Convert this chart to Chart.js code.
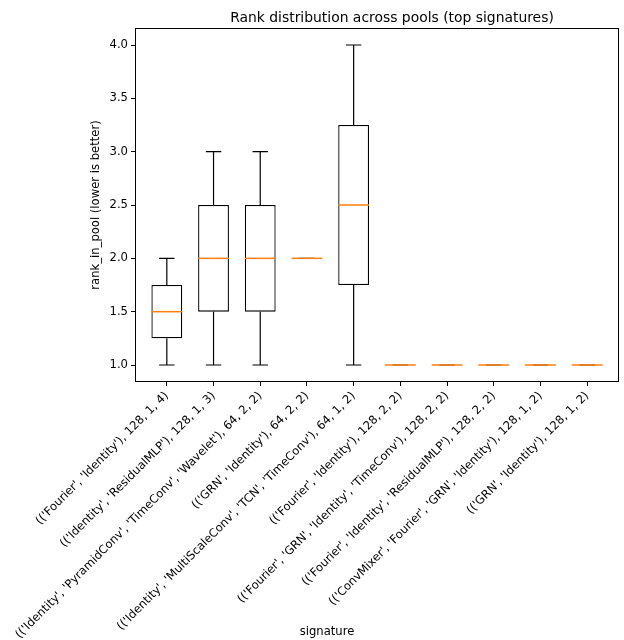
<!DOCTYPE html>
<html>
<head>
<meta charset="utf-8">
<script src="https://cdn.jsdelivr.net/npm/chart.js@4.4.0/dist/chart.umd.min.js"></script>
<style>
  html, body { margin: 0; padding: 0; background: #fff; }
  #wrap { width: 624px; height: 640px; }
</style>
</head>
<body>
<div id="wrap"><canvas id="chart" width="624" height="640"></canvas></div>
<script>
// signatures (x categories)
const signatures = [
  "(('Fourier', 'Identity'), 128, 1, 4)",
  "(('Identity', 'ResidualMLP'), 128, 1, 3)",
  "(('Identity', 'PyramidConv', 'TimeConv', 'Wavelet'), 64, 2, 2)",
  "(('GRN', 'Identity'), 64, 2, 2)",
  "(('Identity', 'MultiScaleConv', 'TCN', 'TimeConv'), 64, 1, 2)",
  "(('Fourier', 'Identity'), 128, 2, 2)",
  "(('Fourier', 'GRN', 'Identity', 'TimeConv'), 128, 2, 2)",
  "(('Fourier', 'Identity', 'ResidualMLP'), 128, 2, 2)",
  "(('ConvMixer', 'Fourier', 'GRN', 'Identity'), 128, 1, 2)",
  "(('GRN', 'Identity'), 128, 1, 2)"
];

// box statistics of rank_in_pool per signature
const whiskerLow  = [1.0, 1.0, 1.0, 2.0, 1.0, 1.0, 1.0, 1.0, 1.0, 1.0];
const quartile1   = [1.25, 1.5, 1.5, 2.0, 1.75, 1.0, 1.0, 1.0, 1.0, 1.0];
const medians     = [1.5, 2.0, 2.0, 2.0, 2.5, 1.0, 1.0, 1.0, 1.0, 1.0];
const quartile3   = [1.75, 2.5, 2.5, 2.0, 3.25, 1.0, 1.0, 1.0, 1.0, 1.0];
const whiskerHigh = [2.0, 3.0, 3.0, 2.0, 4.0, 1.0, 1.0, 1.0, 1.0, 1.0];

const yTicks = [1.0, 1.5, 2.0, 2.5, 3.0, 3.5, 4.0];

const FONT = "'DejaVu Sans', sans-serif";
const BOX_FRAC = 0.66; // box width in category units

// whiskers, caps, medians, frame and the two free-standing titles
const boxPlugin = {
  id: 'boxExtras',
  afterDatasetsDraw(chart) {
    const ctx = chart.ctx;
    const xs = chart.scales.x, ys = chart.scales.y;
    const unit = xs.getPixelForValue(2) - xs.getPixelForValue(1);
    const half = unit * BOX_FRAC / 2;
    ctx.save();
    ctx.lineWidth = 1.2;
    ctx.strokeStyle = '#000';
    signatures.forEach((s, i) => {
      const cx = xs.getPixelForValue(i + 1);
      const yLo = ys.getPixelForValue(whiskerLow[i]);
      const yQ1 = ys.getPixelForValue(quartile1[i]);
      const yQ3 = ys.getPixelForValue(quartile3[i]);
      const yHi = ys.getPixelForValue(whiskerHigh[i]);
      ctx.beginPath();
      ctx.moveTo(cx, yQ1); ctx.lineTo(cx, yLo);
      ctx.moveTo(cx, yQ3); ctx.lineTo(cx, yHi);
      ctx.moveTo(cx - half / 2, yLo); ctx.lineTo(cx + half / 2, yLo);
      ctx.moveTo(cx - half / 2, yHi); ctx.lineTo(cx + half / 2, yHi);
      ctx.stroke();
    });
    ctx.strokeStyle = '#ff7f0e';
    ctx.lineWidth = 1.5;
    signatures.forEach((s, i) => {
      const cx = xs.getPixelForValue(i + 1);
      const ym = ys.getPixelForValue(medians[i]);
      ctx.beginPath();
      ctx.moveTo(cx - half, ym); ctx.lineTo(cx + half, ym);
      ctx.stroke();
    });
    const a = chart.chartArea;
    ctx.strokeStyle = '#000';
    ctx.lineWidth = 1;
    ctx.strokeRect(a.left - 0.5, a.top - 0.5, a.right - a.left + 1, a.bottom - a.top + 1);

    ctx.fillStyle = '#000';
    ctx.textAlign = 'center';
    ctx.textBaseline = 'alphabetic';
    ctx.font = '13.9px ' + FONT;
    ctx.fillText('Rank distribution across pools (top signatures)', 392, 22);
    ctx.font = '11.6px ' + FONT;
    ctx.fillText('signature', 327, 635);
    ctx.restore();
  }
};

const boxData = signatures.map((s, i) => ({ x: i + 1, y: [quartile1[i], quartile3[i]] }));

new Chart(document.getElementById('chart'), {
  type: 'bar',
  data: {
    datasets: [{
      label: 'rank_in_pool',
      data: boxData,
      backgroundColor: '#ffffff',
      borderColor: '#000000',
      borderWidth: (c) => (quartile1[c.dataIndex] === quartile3[c.dataIndex] ? 0 : 1.3),
      borderSkipped: false,
      barPercentage: BOX_FRAC,
      categoryPercentage: 1.0
    }]
  },
  options: {
    responsive: false,
    animation: false,
    layout: { padding: { left: 0, right: 6, top: 29, bottom: 0 } },
    plugins: {
      legend: { display: false },
      title: { display: false },
      tooltip: { enabled: false }
    },
    scales: {
      x: {
        type: 'linear',
        min: 0.34,
        max: 10.66,
        offset: false,
        border: { display: false },
        grid: { offset: false, drawOnChartArea: false, drawTicks: true, tickLength: 5, color: '#000', tickWidth: 1 },
        afterBuildTicks: (scale) => { scale.ticks = signatures.map((s, i) => ({ value: i + 1 })); },
        afterFit: (scale) => { scale.height = 259; scale.paddingLeft = 0; scale.paddingRight = 0; },
        ticks: {
          autoSkip: false,
          maxRotation: 45,
          minRotation: 45,
          padding: 3,
          color: '#000',
          font: { family: FONT, size: 11.6 },
          callback: (v) => signatures[Math.round(v) - 1] || ''
        }
      },
      y: {
        min: 0.85,
        max: 4.15,
        border: { display: false },
        grid: { drawOnChartArea: false, drawTicks: true, tickLength: 5, color: '#000', tickWidth: 1 },
        afterBuildTicks: (scale) => { scale.ticks = yTicks.map(v => ({ value: v })); },
        afterFit: (scale) => { scale.width = 136; },
        ticks: {
          padding: 3,
          color: '#000',
          font: { family: FONT, size: 11.6 },
          callback: (v) => Number(v).toFixed(1)
        },
        title: {
          display: true,
          text: 'rank_in_pool (lower is better)',
          color: '#000',
          font: { family: FONT, size: 11.6 },
          padding: { top: 89, bottom: 0 }
        }
      }
    }
  },
  plugins: [boxPlugin]
});
</script>
</body>
</html>
